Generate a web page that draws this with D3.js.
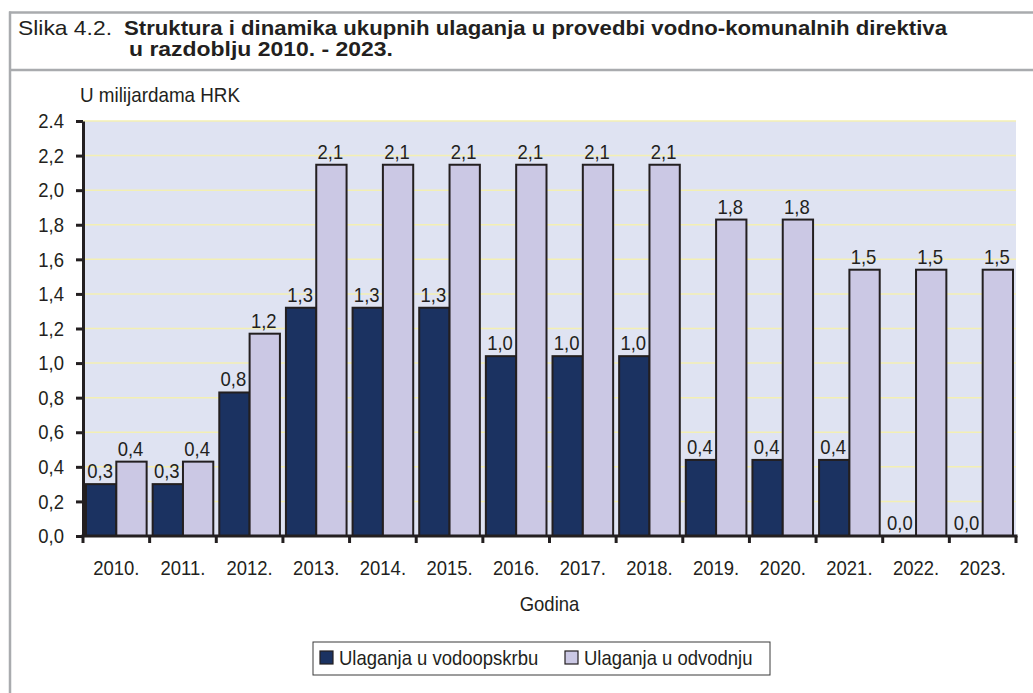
<!DOCTYPE html>
<html>
<head>
<meta charset="utf-8">
<script src="https://cdn.jsdelivr.net/npm/d3@7"></script>
<style>
  html, body { margin: 0; padding: 0; background: #ffffff; }
  svg { display: block; font-family: "Liberation Sans", Arial, sans-serif; }
</style>
</head>
<body>
<svg id="chart" width="1033" height="693"></svg>
<script>
// ---- data ----
const years = ["2010.", "2011.", "2012.", "2013.", "2014.", "2015.", "2016.", "2017.", "2018.", "2019.", "2020.", "2021.", "2022.", "2023."];
const vodoopskrba = [0.30, 0.30, 0.83, 1.32, 1.32, 1.32, 1.04, 1.04, 1.04, 0.44, 0.44, 0.44, 0.0, 0.0];
const odvodnja = [0.43, 0.43, 1.17, 2.147, 2.147, 2.147, 2.147, 2.147, 2.147, 1.83, 1.83, 1.54, 1.54, 1.54];
const seriesNames = ["Ulaganja u vodoopskrbu", "Ulaganja u odvodnju"];
const yTicks = [0, 0.2, 0.4, 0.6, 0.8, 1.0, 1.2, 1.4, 1.6, 1.8, 2.0, 2.2, 2.4];
const yTickLabels = ["0,0", "0,2", "0,4", "0,6", "0,8", "1,0", "1,2", "1,4", "1,6", "1,8", "2,0", "2,2", "2.4"];
const titlePrefix = "Slika 4.2.";
const titleLine1 = "Struktura i dinamika ukupnih ulaganja u provedbi vodno-komunalnih direktiva";
const titleLine2 = "u razdoblju 2010. - 2023.";
const yAxisTitle = "U milijardama HRK";
const xAxisTitle = "Godina";

// ---- styles ----
const colors = ["#1b3261", "#cbc8e4"];
const ink = "#231f20";
const frameColor = "#a9abae";
const fs = 21;          // label font size
const squeeze = 0.88;   // horizontal condensing of labels

const svg = d3.select("#chart");

function fitText(sel, w) {
  sel.attr("textLength", w).attr("lengthAdjust", "spacingAndGlyphs");
}
function condense(sel) {
  sel.each(function () {
    const w = this.getComputedTextLength();
    d3.select(this).attr("textLength", w * squeeze).attr("lengthAdjust", "spacingAndGlyphs");
  });
}

// frame
svg.append("line").attr("x1", 9).attr("x2", 1033).attr("y1", 12.5).attr("y2", 12.5)
  .attr("stroke", frameColor).attr("stroke-width", 2.5);
svg.append("line").attr("x1", 10).attr("x2", 1033).attr("y1", 70).attr("y2", 70)
  .attr("stroke", frameColor).attr("stroke-width", 2.5);
svg.append("line").attr("x1", 10).attr("x2", 10).attr("y1", 11.5).attr("y2", 693)
  .attr("stroke", frameColor).attr("stroke-width", 2.5);

// title
svg.append("text").attr("x", 18).attr("y", 35).attr("font-size", 21).attr("fill", ink)
  .text(titlePrefix).call(fitText, 94);
svg.append("text").attr("x", 124).attr("y", 35).attr("font-size", 19.5).attr("font-weight", "bold").attr("fill", ink)
  .text(titleLine1).call(fitText, 823);
svg.append("text").attr("x", 129).attr("y", 56).attr("font-size", 19.5).attr("font-weight", "bold").attr("fill", ink)
  .text(titleLine2).call(fitText, 264);

// scales
const plot = { left: 83, right: 1016, top: 121, bottom: 536 };
const x0 = d3.scaleBand().domain(years).range([plot.left, plot.right]).padding(0);
const x1 = d3.scaleBand().domain([0, 1]).range([3, x0.bandwidth() - 3]).padding(0);
const y = d3.scaleLinear().domain([0, 2.4]).range([plot.bottom, plot.top]);

// background
svg.append("rect").attr("x", plot.left).attr("y", plot.top)
  .attr("width", plot.right - plot.left).attr("height", plot.bottom - plot.top)
  .attr("fill", "#dfe3f2");

// gridlines
svg.append("g").selectAll("line").data(yTicks.filter(d => d > 0)).join("line")
  .attr("x1", plot.left).attr("x2", plot.right)
  .attr("y1", d => y(d)).attr("y2", d => y(d))
  .attr("stroke", "#f3efb3").attr("stroke-width", 1.5);

// y axis title
svg.append("text").attr("x", 80).attr("y", 102).attr("font-size", fs).attr("fill", ink)
  .text(yAxisTitle).call(fitText, 160);

// bars
const seriesData = [vodoopskrba, odvodnja];
const groups = svg.append("g").selectAll("g").data(years).join("g")
  .attr("transform", d => `translate(${x0(d)},0)`);
groups.selectAll("rect").data((d, i) => seriesData.map((s, k) => ({ k, v: s[i] }))).join("rect")
  .attr("x", d => x1(d.k))
  .attr("width", x1.bandwidth())
  .attr("y", d => y(d.v))
  .attr("height", d => y(0) - y(d.v))
  .attr("fill", d => colors[d.k])
  .attr("stroke", ink).attr("stroke-width", 2)
  .attr("display", d => d.v > 0 ? null : "none");

const fmt = v => d3.format(".1f")(v).replace(".", ",");
groups.selectAll("text.val").data((d, i) => seriesData.map((s, k) => ({ k, v: s[i] }))).join("text")
  .attr("class", "val")
  .attr("x", d => x1(d.k) + x1.bandwidth() / 2 - 1)
  .attr("y", d => y(d.v) - 6)
  .attr("text-anchor", "middle")
  .attr("font-size", fs)
  .attr("fill", ink)
  .text(d => fmt(d.v))
  .call(condense);

// y axis
const yAxis = svg.append("g").attr("transform", `translate(${plot.left},0)`)
  .call(d3.axisLeft(y).tickValues(yTicks).tickFormat((d, i) => yTickLabels[i]).tickSize(7).tickSizeOuter(0).tickPadding(12));
yAxis.select(".domain").attr("stroke", ink).attr("stroke-width", 3);
yAxis.selectAll(".tick line").attr("stroke", ink).attr("stroke-width", 3);
yAxis.selectAll(".tick text").attr("font-size", fs).attr("fill", ink)
  .attr("font-family", "Liberation Sans, Arial, sans-serif").call(condense);

// x axis
const xAxis = svg.append("g").attr("transform", `translate(0,${plot.bottom})`)
  .call(d3.axisBottom(x0).tickSize(0).tickPadding(24));
xAxis.select(".domain").remove();
xAxis.selectAll(".tick text").attr("font-size", fs).attr("fill", ink)
  .attr("font-family", "Liberation Sans, Arial, sans-serif").call(condense);
svg.append("line").attr("x1", plot.left - 1.5).attr("x2", plot.right + 1.5)
  .attr("y1", plot.bottom).attr("y2", plot.bottom)
  .attr("stroke", ink).attr("stroke-width", 3);
const boundaries = years.map(d => x0(d)).concat([plot.right]);
svg.append("g").selectAll("line").data(boundaries).join("line")
  .attr("x1", d => d).attr("x2", d => d)
  .attr("y1", plot.bottom).attr("y2", plot.bottom + 7)
  .attr("stroke", ink).attr("stroke-width", 3);

// x axis title
svg.append("text").attr("x", (plot.left + plot.right) / 2).attr("y", 611)
  .attr("text-anchor", "middle").attr("font-size", fs).attr("fill", ink).text(xAxisTitle)
  .call(condense);

// legend
const legend = svg.append("g");
legend.append("rect").attr("x", 313).attr("y", 642).attr("width", 457).attr("height", 33)
  .attr("fill", "#ffffff").attr("stroke", "#3a3a3a").attr("stroke-width", 1);
const legendX = [320, 565];
const legendItems = legend.selectAll("g").data(seriesNames).join("g")
  .attr("transform", (d, i) => `translate(${legendX[i]},651)`);
legendItems.append("rect").attr("width", 13).attr("height", 13)
  .attr("fill", (d, i) => colors[i]).attr("stroke", ink).attr("stroke-width", 1.2);
legendItems.append("text").attr("x", 19).attr("y", 14).attr("font-size", fs).attr("fill", ink)
  .text(d => d).call(condense);
</script>
</body>
</html>
